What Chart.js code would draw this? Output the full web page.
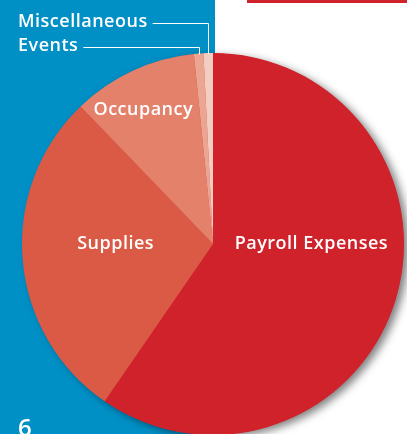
<!DOCTYPE html>
<html>
<head>
<meta charset="utf-8">
<script src="https://cdn.jsdelivr.net/npm/chart.js@4.4.0/dist/chart.umd.min.js"></script>
<style>
  html, body { margin: 0; padding: 0; overflow: hidden; background: #ffffff; }
  #page { position: relative; width: 407px; height: 434px; overflow: hidden; }
  #panel { position: absolute; left: 0; top: 0; width: 215px; height: 434px; background: #0090c6; }
  #bar { position: absolute; left: 247px; top: 0; width: 160px; height: 3px; background: #d0222b; }
  #wrap { position: absolute; left: 0; top: 0; width: 407px; height: 440px; }
  #num { position: absolute; left: 18px; top: 410px; color: #ffffff; font: 600 24px 'Open Sans', sans-serif; }
</style>
</head>
<body>
<div id="page">
  <div id="panel"></div>
  <div id="bar"></div>
  <div id="wrap"><canvas id="chart"></canvas></div>
  <div id="num">6</div>
</div>
<script>
// slices, clockwise from 12 o'clock
const categories = ['Payroll Expenses', 'Supplies', 'Occupancy', 'Events', 'Miscellaneous'];
const shares = [59.6, 28.2, 10.6, 0.8, 0.8]; // % of total
const sliceColors = ['#d0222b', '#da5a45', '#e3816b', '#eba692', '#f3cec0'];

// labels drawn inside the pie (offset from center in radius units)
const insideLabels = {
    'Payroll Expenses': [0.515, 0.0],
    'Supplies': [-0.51, 0.0],
    'Occupancy': [-0.365, -0.70]
};
// labels called out at the top left, with leader lines
const calloutRows = { 'Miscellaneous': 22.5, 'Events': 46.5 };

const labelFont = '600 18px "Open Sans", sans-serif';

const pieShadow = {
    id: 'pieShadow',
    beforeDatasetsDraw(chart) {
        const arc = chart.getDatasetMeta(0).data[0];
        if (!arc) return;
        const ctx = chart.ctx;
        ctx.save();
        ctx.shadowColor = 'rgba(0, 0, 0, 0.5)';
        ctx.shadowBlur = 8;
        ctx.shadowOffsetX = 5;
        ctx.shadowOffsetY = 3;
        ctx.fillStyle = sliceColors[0];
        ctx.beginPath();
        ctx.arc(arc.x, arc.y, arc.outerRadius - 0.5, 0, Math.PI * 2);
        ctx.fill();
        ctx.restore();
    }
};

const pieLabels = {
    id: 'pieLabels',
    afterDatasetsDraw(chart) {
        const ctx = chart.ctx;
        const meta = chart.getDatasetMeta(0);
        ctx.save();
        ctx.font = labelFont;
        ctx.letterSpacing = '0.5px';
        ctx.fillStyle = '#ffffff';
        ctx.strokeStyle = '#ffffff';
        ctx.lineWidth = 1;
        meta.data.forEach((arc, i) => {
            const name = categories[i];
            const p = arc.getProps(['x', 'y', 'startAngle', 'endAngle', 'outerRadius'], true);
            if (insideLabels[name]) {
                const [fx, fy] = insideLabels[name];
                ctx.textAlign = 'center';
                ctx.textBaseline = 'middle';
                ctx.fillText(name, p.x + fx * p.outerRadius, p.y + fy * p.outerRadius);
            } else if (calloutRows[name] !== undefined) {
                const rowY = calloutRows[name];
                const mid = (p.startAngle + p.endAngle) / 2;
                const ex = p.x + p.outerRadius * Math.cos(mid);
                const ey = p.y + p.outerRadius * Math.sin(mid);
                ctx.textAlign = 'left';
                ctx.textBaseline = 'middle';
                ctx.fillText(name, 18, rowY - 1);
                const tx = 18 + ctx.measureText(name).width + 5;
                ctx.beginPath();
                ctx.moveTo(tx, Math.round(rowY) + 0.5);
                ctx.lineTo(Math.round(ex) + 0.5, Math.round(rowY) + 0.5);
                ctx.lineTo(Math.round(ex) + 0.5, ey + 1);
                ctx.stroke();
            }
        });
        ctx.restore();
    }
};

new Chart(document.getElementById('chart'), {
    type: 'pie',
    data: {
        labels: categories,
        datasets: [{
            data: shares,
            backgroundColor: sliceColors,
            borderWidth: 0,
            hoverBorderWidth: 0,
            hoverOffset: 0
        }]
    },
    options: {
        responsive: true,
        maintainAspectRatio: false,
        animation: false,
        layout: { padding: { left: 22, right: 3, top: 53, bottom: 5 } },
        plugins: {
            legend: { display: false },
            tooltip: { enabled: false }
        }
    },
    plugins: [pieShadow, pieLabels]
});
</script>
</body>
</html>
